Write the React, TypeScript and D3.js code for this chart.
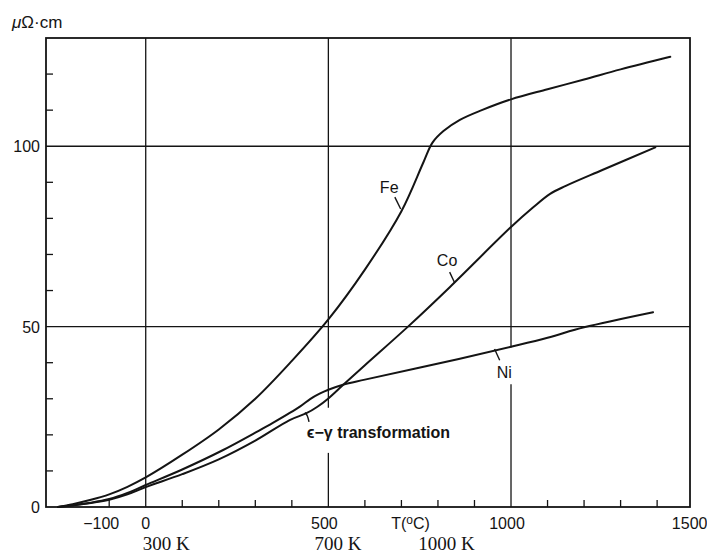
import React, {useEffect, useRef} from 'react'
import * as d3 from 'd3'

// resistivity (µΩ·cm) vs temperature (°C)
const feData: [number, number][] = [
    [-240, 0], [-200, 0.8], [-150, 2], [-100, 3.5], [-50, 5.6], [0, 8.2], [100, 14.5], [200, 21.5],
    [300, 30], [400, 40.5], [500, 52], [600, 65.8], [700, 82], [760, 95.5], [785, 101], [815, 104.2],
    [860, 107.3], [920, 110], [1000, 113], [1100, 115.8], [1200, 118.5], [1300, 121.3], [1436, 124.8]
];
const coData: [number, number][] = [
    [-240, 0], [-150, 1.1], [-100, 2], [-50, 3.5], [0, 5.5], [100, 9.1], [200, 13.2], [300, 18.4],
    [394, 24.1], [440, 26], [470, 27.8], [500, 30.1], [540, 33.8], [600, 39.3], [718, 50],
    [833, 61], [1000, 77.6], [1060, 83], [1107, 86.8], [1150, 89], [1250, 93.4], [1395, 99.7]
];
const niData: [number, number][] = [
    [-240, 0], [-150, 1.2], [-100, 2.2], [-50, 3.9], [0, 6.1], [100, 10.4], [212, 15.8], [300, 20.6],
    [348, 23.3], [422, 27.8], [450, 29.9], [476, 31.4], [500, 32.5], [540, 33.9], [600, 35.3],
    [857, 41], [1000, 44.4], [1100, 46.9], [1200, 49.8], [1389, 54]
];

const xTickLabels = [-100, 0, 500, 1000, 1500];
const xMinorTicks = [-100, 100, 200, 300, 400, 600, 700, 800, 900, 1100, 1200, 1300, 1400];
const yTickLabels = [0, 50, 100];
const yMinorTicks = [10, 20, 30, 40, 60, 70, 80, 90, 110, 120];
const kelvinLabels = [{c: 0, text: '300 K'}, {c: 470, text: '700 K'}, {c: 754, text: '1000 K'}];

// grid lines; gap = [from, to] in µΩ·cm where the line is broken for a label
const vGrid = [{t: 0, gap: null}, {t: 500, gap: [15, 27.5]}, {t: 1000, gap: [34, 44.2]}];
const hGrid = [50, 100];

const labels = [
    {text: 'Fe', at: [641, 87], pointer: [[682, 85.9], [698, 82.6]]},
    {text: 'Co', at: [797, 66.8], pointer: [[832, 65.1], [846, 62.1]]},
    {text: 'Ni', at: [961, 35.8], pointer: [[955, 43.8], [969, 40.7]]},
];

const width = 707;
const height = 553;
const margin = ({top: 38, right: 17, bottom: 46, left: 46});

export default function App() {
    const ref = useRef<SVGSVGElement>(null);

    useEffect(() => {
        document.body.style.margin = '0';

        const x = d3.scaleLinear()
            .domain([-273, 1490])
            .range([margin.left, width - margin.right]);

        const y = d3.scaleLinear()
            .domain([0, 130])
            .range([height - margin.bottom, margin.top]);

        const svg = d3.select(ref.current);
        svg.selectAll('*').remove();
        svg.attr('viewBox', [0, 0, width, height])
            .style('font-family', '"Liberation Sans", Arial, sans-serif');

        const ink = '#141414';
        const grid = svg.append('g').attr('stroke', ink).attr('stroke-width', 1.3);

        vGrid.forEach(g => {
            const segs = g.gap ? [[0, g.gap[0]], [g.gap[1], 130]] : [[0, 130]];
            segs.forEach(s => grid.append('line')
                .attr('x1', x(g.t)).attr('x2', x(g.t))
                .attr('y1', y(s[0])).attr('y2', y(s[1])));
        });
        hGrid.forEach(v => grid.append('line')
            .attr('x1', x.range()[0]).attr('x2', x.range()[1])
            .attr('y1', y(v)).attr('y2', y(v)));

        // minor ticks pointing inward
        grid.selectAll('.xt').data(xMinorTicks).join('line')
            .attr('x1', d => x(d)).attr('x2', d => x(d))
            .attr('y1', y(0)).attr('y2', y(0) - 7);
        grid.selectAll('.yt').data(yMinorTicks).join('line')
            .attr('x1', x.range()[0]).attr('x2', x.range()[0] + 7)
            .attr('y1', d => y(d)).attr('y2', d => y(d));

        // frame
        svg.append('rect')
            .attr('x', x.range()[0]).attr('y', y.range()[1])
            .attr('width', x.range()[1] - x.range()[0])
            .attr('height', y.range()[0] - y.range()[1])
            .attr('fill', 'none').attr('stroke', ink).attr('stroke-width', 1.8);

        const line = d3.line<[number, number]>()
            .x(d => x(d[0]))
            .y(d => y(d[1]))
            .curve(d3.curveCatmullRom.alpha(0.5));

        svg.append('g')
            .attr('fill', 'none')
            .attr('stroke', ink)
            .attr('stroke-width', 2)
            .attr('stroke-linejoin', 'round')
            .attr('stroke-linecap', 'round')
            .selectAll('path')
            .data([feData, coData, niData])
            .join('path')
            .attr('d', d => line(d));

        // curve labels with leader lines
        labels.forEach(l => {
            svg.append('text')
                .attr('x', x(l.at[0])).attr('y', y(l.at[1]))
                .attr('font-size', 16).attr('fill', ink)
                .text(l.text);
            svg.append('path')
                .attr('d', d3.line()(l.pointer.map(p => [x(p[0]), y(p[1])])))
                .attr('stroke', ink).attr('stroke-width', 1.4).attr('fill', 'none');
        });

        svg.append('text')
            .attr('x', x(441)).attr('y', y(19.1))
            .attr('font-size', 16).attr('font-weight', 'bold').attr('fill', ink)
            .text('ϵ−γ transformation');
        svg.append('path')
            .attr('d', d3.line().curve(d3.curveBasis)([[x(447), y(23.6)], [x(443), y(25.4)], [x(436), y(26.2)]]))
            .attr('stroke', ink).attr('stroke-width', 1.4).attr('fill', 'none');

        // tick labels
        svg.append('g')
            .attr('font-size', 16).attr('fill', ink).attr('text-anchor', 'middle')
            .selectAll('text')
            .data(xTickLabels)
            .join('text')
            .attr('x', d => x(d) - (d < 0 ? 8 : d === 0 ? 0 : 4))
            .attr('y', y(0) + 22)
            .text(d => d < 0 ? '−' + Math.abs(d) : d);

        svg.append('g')
            .attr('font-size', 16).attr('fill', ink).attr('text-anchor', 'end')
            .selectAll('text')
            .data(yTickLabels)
            .join('text')
            .attr('x', x.range()[0] - 6)
            .attr('y', d => y(d) + 6)
            .text(d => d);

        const tLabel = svg.append('text')
            .attr('x', x(672)).attr('y', y(0) + 22)
            .attr('font-size', 16).attr('fill', ink);
        tLabel.append('tspan').text('T(');
        tLabel.append('tspan').attr('font-size', 12).attr('dy', -5).text('o');
        tLabel.append('tspan').attr('dy', 5).text('C)');

        svg.append('g')
            .attr('font-size', 19).attr('fill', ink)
            .style('font-family', '"Liberation Serif", "Times New Roman", serif')
            .selectAll('text')
            .data(kelvinLabels)
            .join('text')
            .attr('x', d => x(d.c) - 3)
            .attr('y', y(0) + 43)
            .text(d => d.text);

        const unit = svg.append('text')
            .attr('x', 12).attr('y', 28)
            .attr('font-size', 17).attr('fill', ink);
        unit.append('tspan').attr('font-style', 'italic').text('μ');
        unit.append('tspan').text('Ω·cm');
    }, []);

    return <svg ref={ref} width={width} height={height} style={{display: 'block'}}/>;
}
